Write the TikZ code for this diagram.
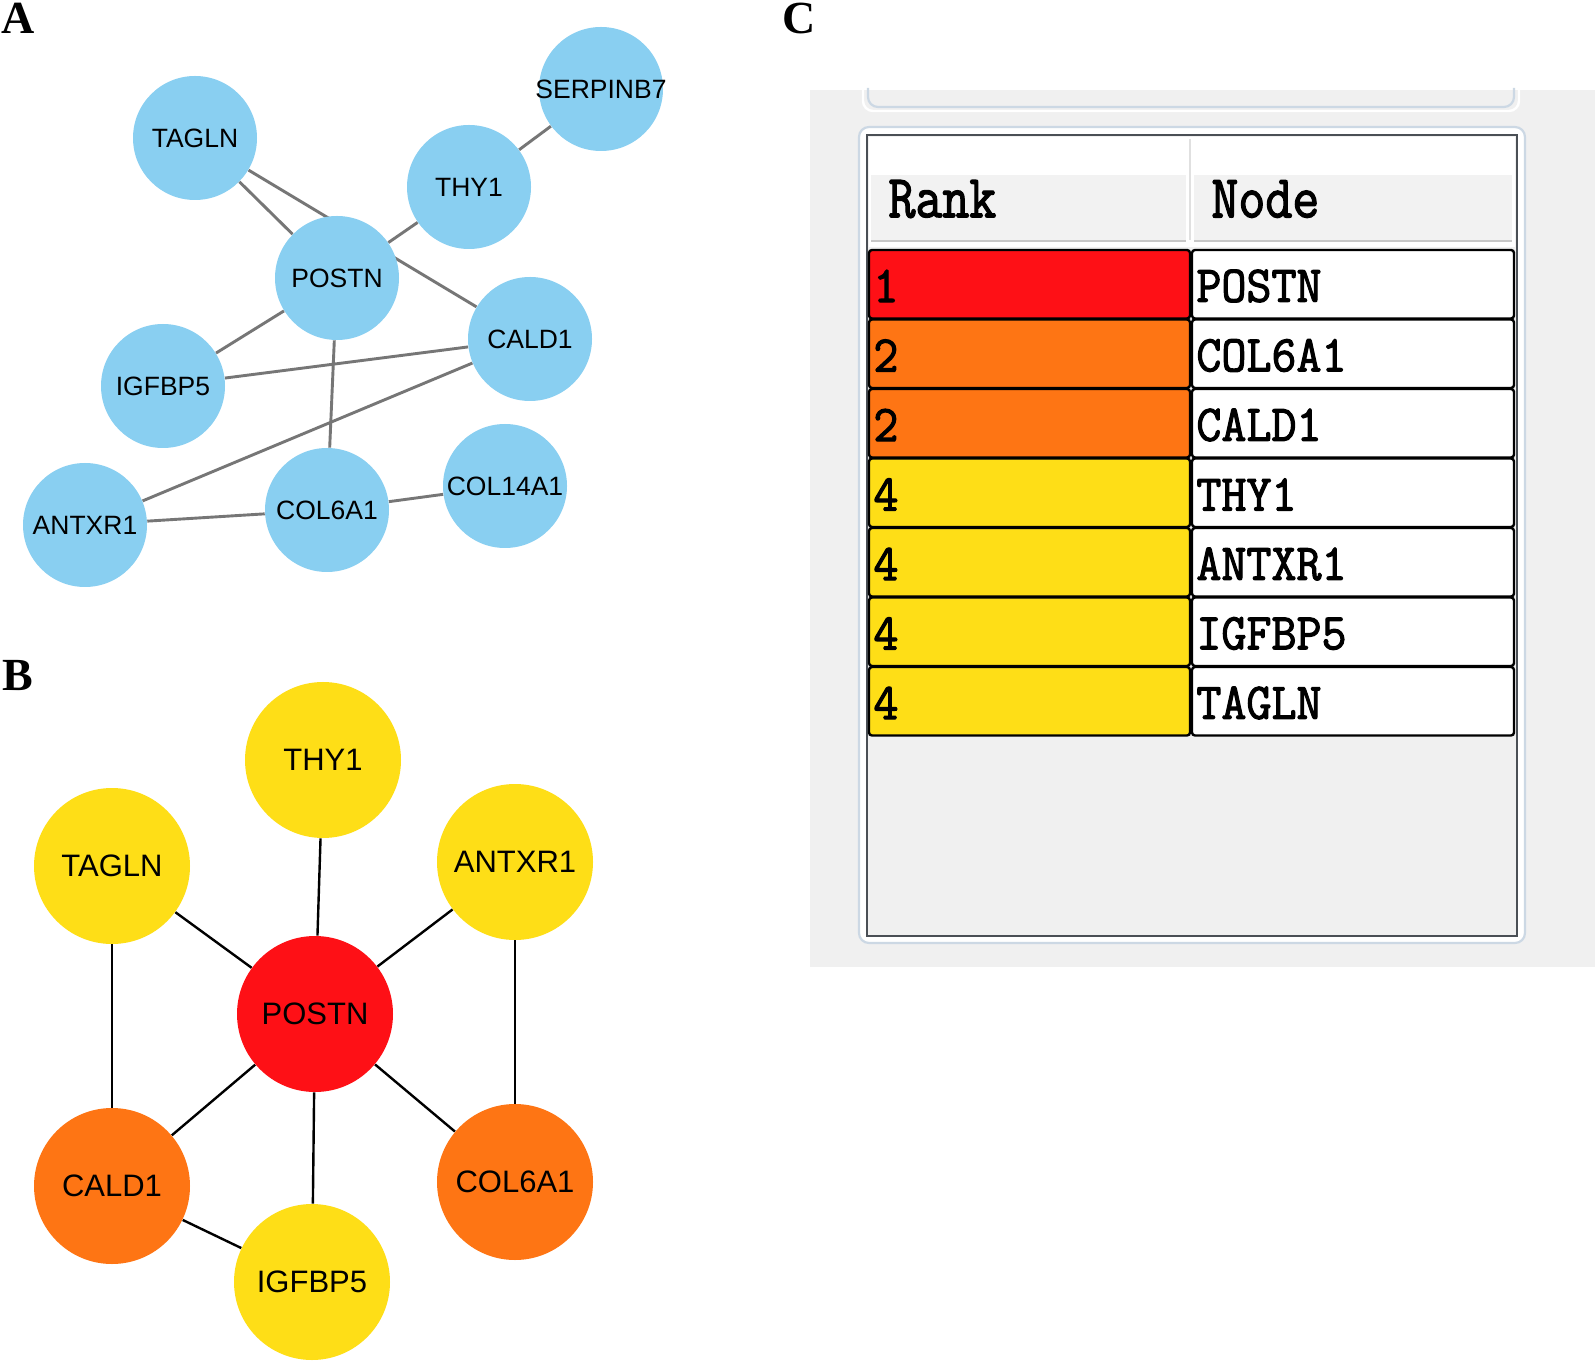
\documentclass[tikz,border=0pt]{standalone}
\usepackage{fontspec}
\usepackage{graphicx}
\setmainfont{Liberation Sans}
\newfontfamily\labfont{Liberation Serif}
\newfontfamily\tabfont{Latin Modern Mono}[FakeBold=2.2]
\usetikzlibrary{backgrounds}
\definecolor{nodeblue}{HTML}{89CFF1}
\definecolor{edgegray}{HTML}{767676}
\definecolor{rkred}{HTML}{FE1016}
\definecolor{rkorange}{HTML}{FE7514}
\definecolor{rkyellow}{HTML}{FEDE17}
\definecolor{panelgray}{HTML}{F0F0F0}
\definecolor{framelight}{HTML}{CCD8E4}
\definecolor{framedark}{HTML}{4A4F55}
\newcommand\tabtxt[1]{\scalebox{1}[1.06]{#1}}
\newcommand\headtxt[1]{\scalebox{1}[1.16]{#1}}
\tikzset{
  anode/.style={circle, fill=nodeblue, minimum size=62pt, inner sep=0pt,
    font=\fontsize{13.25}{13.25}\selectfont},
  bnode/.style={circle, minimum size=78pt, inner sep=0pt,
    font=\fontsize{15.5}{15.5}\selectfont},
  aedge/.style={draw=edgegray, line width=1.45pt},
  bedge/.style={draw=black, line width=1.2pt},
  panellabel/.style={inner sep=0pt, anchor=base west,
    font=\labfont\bfseries\fontsize{23}{23}\selectfont},
  tabtext/.style={inner sep=0pt, anchor=west,
    font=\tabfont\fontsize{24.3}{24.3}\selectfont},
  headtext/.style={inner sep=0pt, anchor=west,
    font=\tabfont\fontsize{26.2}{26.2}\selectfont},
  cellline/.style={draw=black, line width=1.2pt, rounded corners=1.5pt},
}
\begin{document}
\begin{tikzpicture}[x=0.5pt, y=-0.5pt]
\useasboundingbox (0,0) rectangle (1595,1368);
\begin{scope}[on background layer]
  \fill[white] (0,0) rectangle (1595,1368);
\end{scope}

% ---------- panel labels ----------
\node[panellabel] (labA) at (1,34) {A};
\node[panellabel] (labB) at (2,690) {B};
\node[panellabel] (labC) at (782,34) {C};

% ---------- panel A ----------
\node[anode] (aTAGLN) at (195,138) {TAGLN};
\node[anode] (aSERP) at (601,89) {\makebox[0pt]{SERPINB7}};
\node[anode] (aTHY1) at (469,187) {THY1};
\node[anode] (aPOSTN) at (337,278) {POSTN};
\node[anode] (aCALD1) at (530,339) {CALD1};
\node[anode] (aIGFBP5) at (163,386) {IGFBP5};
\node[anode] (aANTXR1) at (85,525) {ANTXR1};
\node[anode] (aCOL6A1) at (327,510) {COL6A1};
\node[anode] (aCOL14A1) at (505,486) {COL14A1};
\begin{scope}[on background layer]
  \draw[aedge] (aTAGLN) -- (aPOSTN);
  \draw[aedge] (aTAGLN) -- (aCALD1);
  \draw[aedge] (aTHY1) -- (aSERP);
  \draw[aedge] (aPOSTN) -- (aTHY1);
  \draw[aedge] (aPOSTN) -- (aIGFBP5);
  \draw[aedge] (aPOSTN) -- (aCOL6A1);
  \draw[aedge] (aIGFBP5) -- (aCALD1);
  \draw[aedge] (aCALD1) -- (aANTXR1);
  \draw[aedge] (aANTXR1) -- (aCOL6A1);
  \draw[aedge] (aCOL6A1) -- (aCOL14A1);
\end{scope}

% ---------- panel B ----------
\node[bnode, fill=rkyellow] (bTHY1) at (323,760) {THY1};
\node[bnode, fill=rkyellow] (bTAGLN) at (112,866) {TAGLN};
\node[bnode, fill=rkyellow] (bANTXR1) at (515,862) {ANTXR1};
\node[bnode, fill=rkred] (bPOSTN) at (315,1014) {POSTN};
\node[bnode, fill=rkorange] (bCALD1) at (112,1186) {CALD1};
\node[bnode, fill=rkorange] (bCOL6A1) at (515,1182) {COL6A1};
\node[bnode, fill=rkyellow] (bIGFBP5) at (312,1282) {IGFBP5};
\begin{scope}[on background layer]
  \draw[bedge] (bPOSTN) -- (bTHY1);
  \draw[bedge] (bPOSTN) -- (bTAGLN);
  \draw[bedge] (bPOSTN) -- (bANTXR1);
  \draw[bedge] (bPOSTN) -- (bCALD1);
  \draw[bedge] (bPOSTN) -- (bCOL6A1);
  \draw[bedge] (bPOSTN) -- (bIGFBP5);
  \draw[bedge] (bTAGLN) -- (bCALD1);
  \draw[bedge] (bANTXR1) -- (bCOL6A1);
  \draw[bedge] (bCALD1) -- (bIGFBP5);
\end{scope}

% ---------- panel C ----------
\fill[panelgray] (810,90) rectangle (1595,967);
% fragment of upper box
\draw[white, line width=1.2pt, rounded corners=5pt] (863,88) -- (863,111) -- (1519,111) -- (1519,88);
\draw[framelight, line width=1.1pt, rounded corners=5pt] (868,88) -- (868,107) -- (1514,107) -- (1514,88);
% table frame
\draw[framelight, fill=white, line width=1.1pt, rounded corners=5pt] (859,127) rectangle (1525,943);
\draw[framedark, fill=panelgray, line width=1pt] (867,135) rectangle (1517,936);
% header
\fill[white] (869,137) rectangle (1515,247);
\fill[black!5] (871,175) rectangle (1186,240);
\fill[black!5] (1194,175) rectangle (1512,240);
\draw[black!22, line width=0.8pt] (871,241) -- (1186,241);
\draw[black!22, line width=0.8pt] (1194,241) -- (1512,241);
\draw[black!12, line width=0.8pt] (1190,139) -- (1190,240);
\node[headtext] (hRank) at (888,199) {\headtxt{Rank}};
\node[headtext] (hNode) at (1211,199) {\headtxt{Node}};
% rows
\foreach \i/\rk/\nm/\col in {1/1/POSTN/rkred, 2/2/COL6A1/rkorange, 3/2/CALD1/rkorange,
    4/4/THY1/rkyellow, 5/4/ANTXR1/rkyellow, 6/4/IGFBP5/rkyellow, 7/4/TAGLN/rkyellow} {
  \pgfmathsetmacro\yt{250+69.5*(\i-1)}
  \pgfmathsetmacro\yb{\yt+68.5}
  \pgfmathsetmacro\yc{\yt+36}
  \draw[cellline, fill=\col] (869,\yt) rectangle (1190,\yb);
  \draw[cellline, fill=white] (1192,\yt) rectangle (1514,\yb);
  \node[tabtext] (rank\i) at (873,\yc) {\tabtxt{\rk}};
  \node[tabtext] (name\i) at (1196,\yc) {\tabtxt{\nm}};
}
\end{tikzpicture}
\end{document}
